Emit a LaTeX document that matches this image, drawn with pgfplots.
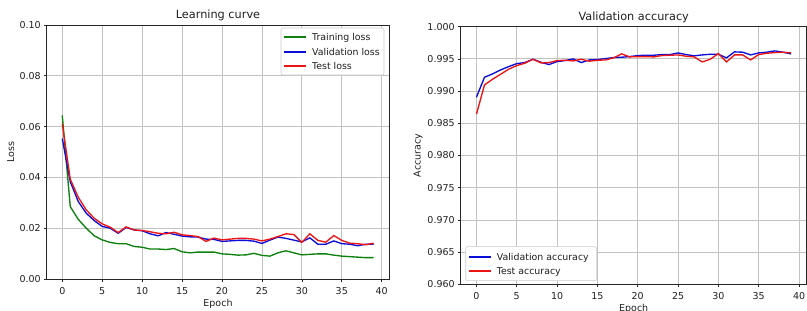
\documentclass[border=0pt]{standalone}
\usepackage{fontspec}
\setmainfont{DejaVu Sans}
\usepackage{pgfplots}
\pgfplotsset{compat=1.18}
\definecolor{mplg}{rgb}{0.05,0.50,0.05}
\definecolor{mplb}{rgb}{0.05,0.05,0.85}
\definecolor{mplr}{rgb}{0.93,0.08,0.08}
\definecolor{txt}{rgb}{0.12,0.12,0.12}
\pgfplotsset{
  mystyle/.style={
    scale only axis,
    anchor=south west,
    axis line style={black!85, line width=0.7pt},
    grid=major,
    grid style={black!24, line width=0.8pt},
    tick align=outside,
    major tick length=2.5pt,
    tick style={black!85, line width=0.7pt},
    xtick pos=left, ytick pos=left,
    xmin=-1.95, xmax=40.95,
    xtick={0,5,...,40},
    /pgf/number format/assume math mode=true,
    tick label style={font=\fontsize{9.5}{11}\selectfont, text=txt},
    xticklabel style={anchor=base, yshift=-12.5pt},
    label style={font=\fontsize{9.5}{11}\selectfont, text=txt},
    every axis title shift=0pt,
    title style={font=\fontsize{11.3}{13}\selectfont, text=txt, at={(axis description cs:0.5,1)}, anchor=base, yshift=6pt},
    xlabel={Epoch},
  }
}
\tikzset{legtext/.style={anchor=base west, inner sep=0pt, font=\fontsize{9.4}{11}\selectfont, text=txt},
         legbox/.style={draw=black!20, fill=white, rounded corners=2pt, line width=0.6pt},
         legline/.style={color=#1, line width=1.5pt}}
\begin{document}
\begin{tikzpicture}
\path[use as bounding box] (0pt,0pt) rectangle (807pt,311pt);
\begin{axis}[mystyle,
  at={(46.7pt,32pt)}, width=342.6pt, height=254pt,
  ymin=0, ymax=0.1, ytick={0,0.02,...,0.1},
  yticklabel style={/pgf/number format/fixed, /pgf/number format/precision=2, /pgf/number format/fixed zerofill},
  scaled y ticks=false,
  title={Learning curve},
  ylabel={Loss},
  xlabel style={at={(axis description cs:0.5,0)}, anchor=base, yshift=-27.5pt},
  ylabel style={at={(axis description cs:-0.095,0.5)}, anchor=base},
]
\addplot[color=mplg, line width=1.35pt] coordinates {
(0,0.0644)(1,0.0285)(2,0.0235)(3,0.0200)(4,0.0170)(5,0.0154)(6,0.0144)(7,0.0139)(8,0.0139)(9,0.0128)
(10,0.0125)(11,0.0118)(12,0.0118)(13,0.0116)(14,0.0120)(15,0.0107)(16,0.0103)(17,0.0106)(18,0.0106)(19,0.0106)
(20,0.0099)(21,0.0097)(22,0.0094)(23,0.0095)(24,0.0101)(25,0.0093)(26,0.0090)(27,0.0103)(28,0.0111)(29,0.0103)
(30,0.0095)(31,0.0097)(32,0.0099)(33,0.0099)(34,0.0094)(35,0.0090)(36,0.0088)(37,0.0086)(38,0.0084)(39,0.0084)};
\addplot[color=mplb, line width=1.35pt] coordinates {
(0,0.0553)(1,0.0383)(2,0.0305)(3,0.0259)(4,0.0230)(5,0.0207)(6,0.0200)(7,0.0180)(8,0.0203)(9,0.0193)
(10,0.0190)(11,0.0178)(12,0.0170)(13,0.0183)(14,0.0176)(15,0.0169)(16,0.0166)(17,0.0165)(18,0.0157)(19,0.0156)
(20,0.0148)(21,0.0150)(22,0.0152)(23,0.0152)(24,0.0149)(25,0.0140)(26,0.0153)(27,0.0165)(28,0.0160)(29,0.0153)
(30,0.0146)(31,0.0162)(32,0.0137)(33,0.0137)(34,0.0150)(35,0.0139)(36,0.0137)(37,0.0131)(38,0.0137)(39,0.0137)};
\addplot[color=mplr, line width=1.35pt] coordinates {
(0,0.0612)(1,0.0393)(2,0.0322)(3,0.0272)(4,0.0239)(5,0.0217)(6,0.0204)(7,0.0183)(8,0.0205)(9,0.0193)
(10,0.0191)(11,0.0186)(12,0.0180)(13,0.0178)(14,0.0184)(15,0.0174)(16,0.0171)(17,0.0167)(18,0.0148)(19,0.0161)
(20,0.0154)(21,0.0157)(22,0.0160)(23,0.0160)(24,0.0157)(25,0.0150)(26,0.0157)(27,0.0167)(28,0.0178)(29,0.0175)
(30,0.0144)(31,0.0178)(32,0.0152)(33,0.0145)(34,0.0171)(35,0.0152)(36,0.0141)(37,0.0139)(38,0.0135)(39,0.0141)};
\end{axis}
% legend of the left chart
\draw[legbox] (281pt,236pt) rectangle (384pt,283pt);
\draw[legline=mplg] (283.5pt,274pt) -- (305.5pt,274pt);
\draw[legline=mplb] (283.5pt,259pt) -- (305.5pt,259pt);
\draw[legline=mplr] (283.5pt,245pt) -- (305.5pt,245pt);
\node[legtext] at (312pt,270.6pt) {Training loss};
\node[legtext] at (312pt,255.6pt) {Validation loss};
\node[legtext] at (312pt,241.5pt) {Test loss};
\begin{axis}[mystyle,
  at={(460.7pt,26.7pt)}, width=346pt, height=257.6pt,
  ymin=0.96, ymax=1.0, ytick={0.96,0.965,...,1.0001},
  yticklabel style={/pgf/number format/fixed, /pgf/number format/precision=3, /pgf/number format/fixed zerofill},
  scaled y ticks=false,
  title={Validation accuracy},
  ylabel={Accuracy},
  xlabel style={at={(axis description cs:0.5,0)}, anchor=base, yshift=-27pt},
  ylabel style={at={(axis description cs:-0.1156,0.5)}, anchor=base},
]
\addplot[color=mplb, line width=1.35pt] coordinates {
(0,0.98904)(1,0.99215)(2,0.99267)(3,0.99329)(4,0.99381)(5,0.99427)(6,0.99443)(7,0.99495)(8,0.99448)(9,0.99412)
(10,0.99459)(11,0.99474)(12,0.99500)(13,0.99443)(14,0.99484)(15,0.99490)(16,0.99505)(17,0.99521)(18,0.99526)(19,0.99536)
(20,0.99552)(21,0.99557)(22,0.99557)(23,0.99567)(24,0.99567)(25,0.99593)(26,0.99567)(27,0.99547)(28,0.99562)(29,0.99572)
(30,0.99572)(31,0.99516)(32,0.99609)(33,0.99604)(34,0.99562)(35,0.99593)(36,0.99604)(37,0.99624)(38,0.99604)(39,0.99578)};
\addplot[color=mplr, line width=1.35pt] coordinates {
(0,0.98640)(1,0.99096)(2,0.99184)(3,0.99262)(4,0.99340)(5,0.99396)(6,0.99433)(7,0.99495)(8,0.99438)(9,0.99443)
(10,0.99474)(11,0.99479)(12,0.99469)(13,0.99495)(14,0.99464)(15,0.99479)(16,0.99484)(17,0.99516)(18,0.99578)(19,0.99531)
(20,0.99536)(21,0.99536)(22,0.99531)(23,0.99552)(24,0.99557)(25,0.99562)(26,0.99541)(27,0.99531)(28,0.99453)(29,0.99495)
(30,0.99583)(31,0.99453)(32,0.99562)(33,0.99562)(34,0.99484)(35,0.99567)(36,0.99588)(37,0.99598)(38,0.99604)(39,0.99593)};
\end{axis}
% legend of the right chart
\draw[legbox] (465.7pt,30.3pt) rectangle (596.7pt,64.3pt);
\draw[legline=mplb] (469pt,54pt) -- (491pt,54pt);
\draw[legline=mplr] (469pt,40pt) -- (491pt,40pt);
\node[legtext] at (496.7pt,50.6pt) {Validation accuracy};
\node[legtext] at (496.7pt,36.6pt) {Test accuracy};
\end{tikzpicture}
\end{document}
